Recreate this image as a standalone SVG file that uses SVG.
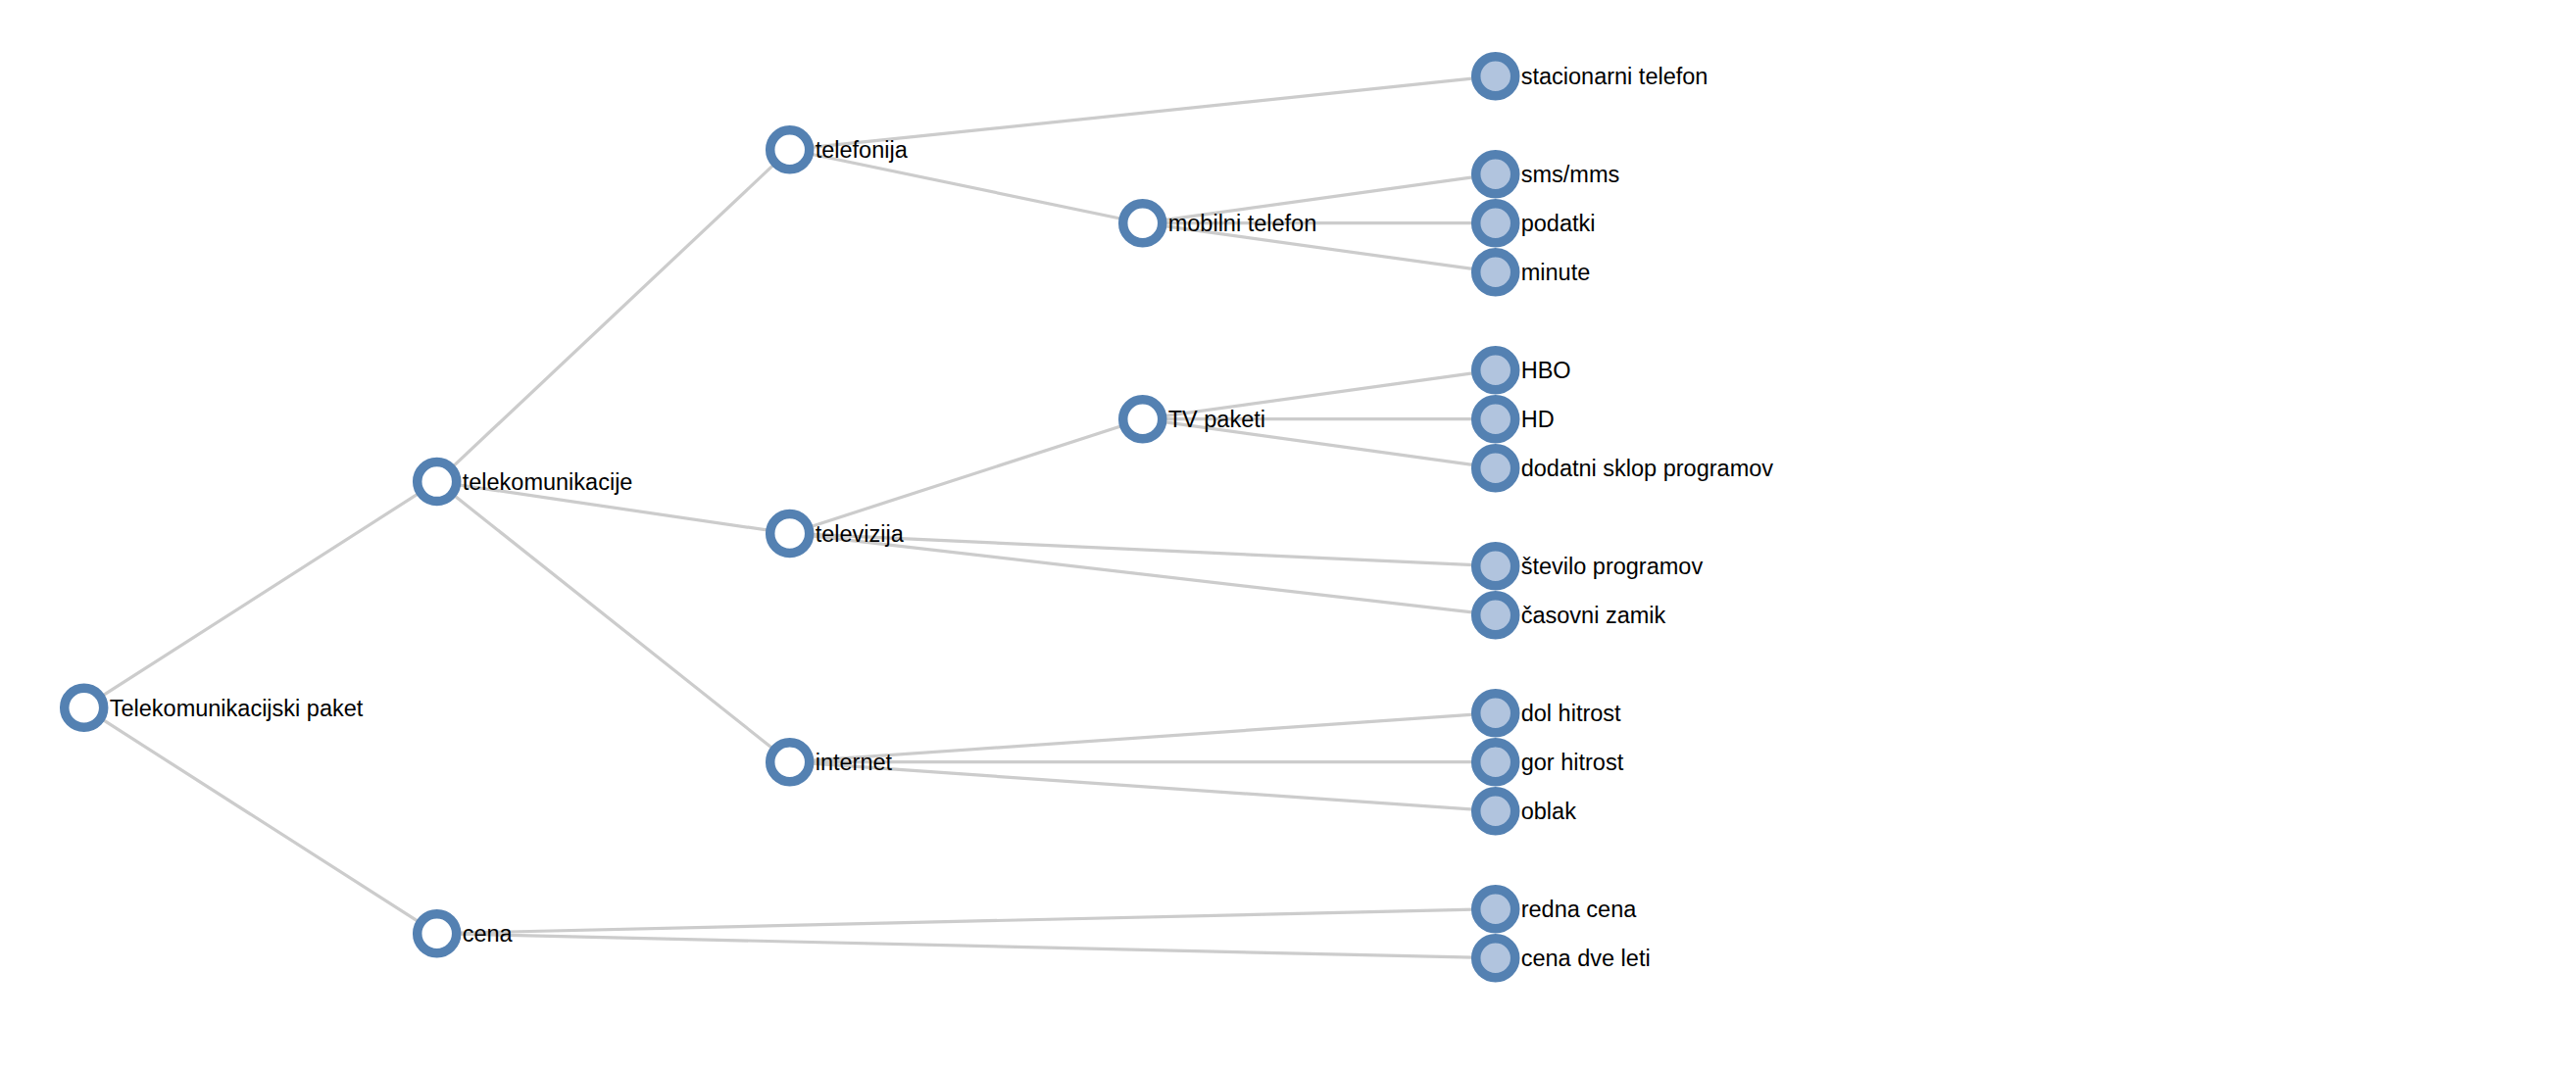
<svg xmlns="http://www.w3.org/2000/svg" width="2628" height="1092" viewBox="0 0 2628 1092">
<style>
.link{fill:none;stroke:#cccccc;stroke-width:3.2}
.node circle{fill:#ffffff;stroke:#5481b2;stroke-width:9.5}
.node.leaf circle{fill:#b1c4de}
.node text{font-family:"Liberation Sans",Arial,Helvetica,sans-serif;font-size:23.5px;fill:#000}
</style>
<rect width="2628" height="1092" fill="#ffffff"/>
<g id="links">
<line class="link" x1="85.7" y1="722.2" x2="445.7" y2="491.6"/>
<line class="link" x1="85.7" y1="722.2" x2="445.7" y2="952.7"/>
<line class="link" x1="445.7" y1="491.6" x2="805.7" y2="152.7"/>
<line class="link" x1="445.7" y1="491.6" x2="805.7" y2="544.4"/>
<line class="link" x1="445.7" y1="491.6" x2="805.7" y2="777.7"/>
<line class="link" x1="805.7" y1="152.7" x2="1525.7" y2="77.7"/>
<line class="link" x1="805.7" y1="152.7" x2="1165.7" y2="227.7"/>
<line class="link" x1="1165.7" y1="227.7" x2="1525.7" y2="177.7"/>
<line class="link" x1="1165.7" y1="227.7" x2="1525.7" y2="227.7"/>
<line class="link" x1="1165.7" y1="227.7" x2="1525.7" y2="277.7"/>
<line class="link" x1="805.7" y1="544.4" x2="1165.7" y2="427.7"/>
<line class="link" x1="805.7" y1="544.4" x2="1525.7" y2="577.7"/>
<line class="link" x1="805.7" y1="544.4" x2="1525.7" y2="627.7"/>
<line class="link" x1="1165.7" y1="427.7" x2="1525.7" y2="377.7"/>
<line class="link" x1="1165.7" y1="427.7" x2="1525.7" y2="427.7"/>
<line class="link" x1="1165.7" y1="427.7" x2="1525.7" y2="477.7"/>
<line class="link" x1="805.7" y1="777.7" x2="1525.7" y2="727.7"/>
<line class="link" x1="805.7" y1="777.7" x2="1525.7" y2="777.7"/>
<line class="link" x1="805.7" y1="777.7" x2="1525.7" y2="827.7"/>
<line class="link" x1="445.7" y1="952.7" x2="1525.7" y2="927.7"/>
<line class="link" x1="445.7" y1="952.7" x2="1525.7" y2="977.7"/>
</g>
<g id="n-root" class="node" transform="translate(85.7,722.2)"><circle r="20"/><text x="26" y="8.6">Telekomunikacijski paket</text></g>
<g id="n-telekomunikacije" class="node" transform="translate(445.7,491.6)"><circle r="20"/><text x="26" y="8.6">telekomunikacije</text></g>
<g id="n-telefonija" class="node" transform="translate(805.7,152.7)"><circle r="20"/><text x="26" y="8.6">telefonija</text></g>
<g id="n-stacionarni" class="node leaf" transform="translate(1525.7,77.7)"><circle r="20"/><text x="26" y="8.6">stacionarni telefon</text></g>
<g id="n-mobilni" class="node" transform="translate(1165.7,227.7)"><circle r="20"/><text x="26" y="8.6">mobilni telefon</text></g>
<g id="n-sms" class="node leaf" transform="translate(1525.7,177.7)"><circle r="20"/><text x="26" y="8.6">sms/mms</text></g>
<g id="n-podatki" class="node leaf" transform="translate(1525.7,227.7)"><circle r="20"/><text x="26" y="8.6">podatki</text></g>
<g id="n-minute" class="node leaf" transform="translate(1525.7,277.7)"><circle r="20"/><text x="26" y="8.6">minute</text></g>
<g id="n-televizija" class="node" transform="translate(805.7,544.4)"><circle r="20"/><text x="26" y="8.6">televizija</text></g>
<g id="n-tvpaketi" class="node" transform="translate(1165.7,427.7)"><circle r="20"/><text x="26" y="8.6">TV paketi</text></g>
<g id="n-hbo" class="node leaf" transform="translate(1525.7,377.7)"><circle r="20"/><text x="26" y="8.6">HBO</text></g>
<g id="n-hd" class="node leaf" transform="translate(1525.7,427.7)"><circle r="20"/><text x="26" y="8.6">HD</text></g>
<g id="n-dodatni" class="node leaf" transform="translate(1525.7,477.7)"><circle r="20"/><text x="26" y="8.6">dodatni sklop programov</text></g>
<g id="n-stevilo" class="node leaf" transform="translate(1525.7,577.7)"><circle r="20"/><text x="26" y="8.6">število programov</text></g>
<g id="n-casovni" class="node leaf" transform="translate(1525.7,627.7)"><circle r="20"/><text x="26" y="8.6">časovni zamik</text></g>
<g id="n-internet" class="node" transform="translate(805.7,777.7)"><circle r="20"/><text x="26" y="8.6">internet</text></g>
<g id="n-dol" class="node leaf" transform="translate(1525.7,727.7)"><circle r="20"/><text x="26" y="8.6">dol hitrost</text></g>
<g id="n-gor" class="node leaf" transform="translate(1525.7,777.7)"><circle r="20"/><text x="26" y="8.6">gor hitrost</text></g>
<g id="n-oblak" class="node leaf" transform="translate(1525.7,827.7)"><circle r="20"/><text x="26" y="8.6">oblak</text></g>
<g id="n-cena" class="node" transform="translate(445.7,952.7)"><circle r="20"/><text x="26" y="8.6">cena</text></g>
<g id="n-redna" class="node leaf" transform="translate(1525.7,927.7)"><circle r="20"/><text x="26" y="8.6">redna cena</text></g>
<g id="n-cenadve" class="node leaf" transform="translate(1525.7,977.7)"><circle r="20"/><text x="26" y="8.6">cena dve leti</text></g>
</svg>
